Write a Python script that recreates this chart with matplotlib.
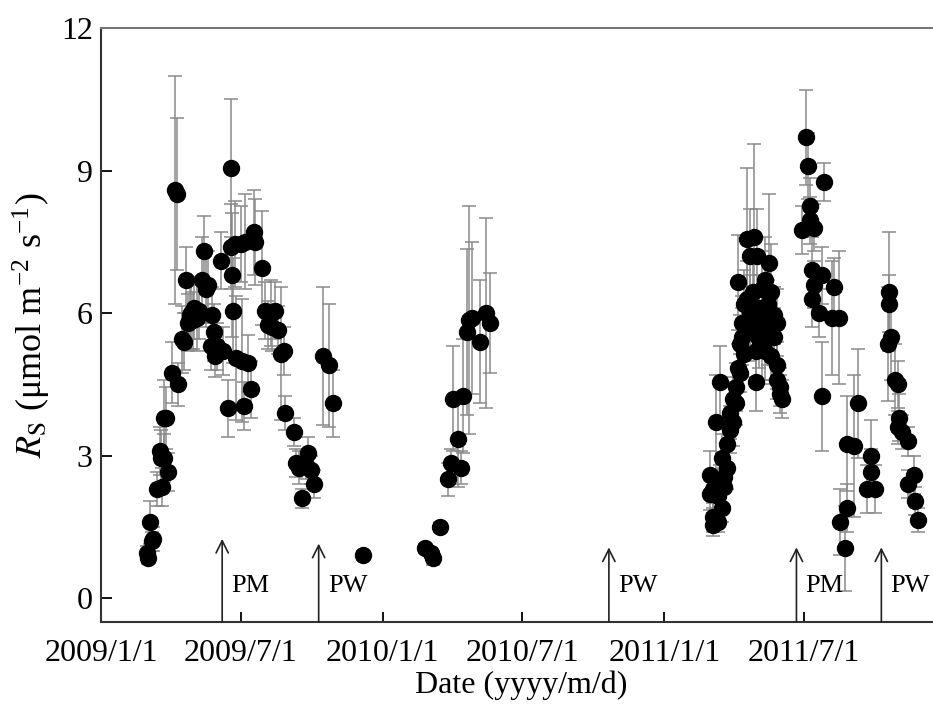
import matplotlib
matplotlib.use("Agg")
import matplotlib.pyplot as plt
import pandas as pd

plt.rcParams['font.family'] = ['Liberation Serif', 'DejaVu Serif']
plt.rcParams['mathtext.fontset'] = 'stix'

# ---- data ----
dates_2009 = ['2009-03-02', '2009-03-03', '2009-03-06', '2009-03-08', '2009-03-10', '2009-03-15',
              '2009-03-19', '2009-03-20', '2009-03-21', '2009-03-23', '2009-03-24', '2009-03-26',
              '2009-03-29', '2009-04-03', '2009-04-07', '2009-04-09', '2009-04-11', '2009-04-16',
              '2009-04-18', '2009-04-21', '2009-04-24', '2009-04-26', '2009-04-28', '2009-04-30',
              '2009-05-02', '2009-05-06', '2009-05-08', '2009-05-12', '2009-05-15', '2009-05-17',
              '2009-05-19', '2009-05-23', '2009-05-25', '2009-05-27', '2009-05-29', '2009-05-31',
              '2009-06-05', '2009-06-08', '2009-06-14', '2009-06-18', '2009-06-19', '2009-06-20',
              '2009-06-21', '2009-06-23', '2009-06-25', '2009-07-01', '2009-07-03', '2009-07-05',
              '2009-07-07', '2009-07-11', '2009-07-14', '2009-07-18', '2009-07-20', '2009-07-29',
              '2009-08-01', '2009-08-05', '2009-08-09', '2009-08-11', '2009-08-14', '2009-08-18',
              '2009-08-22', '2009-08-26', '2009-08-28', '2009-09-08', '2009-09-10', '2009-09-15',
              '2009-09-19', '2009-09-23', '2009-09-26', '2009-09-30', '2009-10-04', '2009-10-16',
              '2009-10-23', '2009-10-29', '2009-12-06']
rs_2009 = [0.95, 0.85, 1.6, 1.2, 1.25, 2.3,
           3.1, 2.95, 2.35, 3.8, 2.95, 3.8,
           2.65, 4.75, 8.6, 8.5, 4.5, 5.45,
           5.4, 6.7, 5.8, 5.95, 6.0, 5.85,
           6.1, 5.9, 6.05, 6.7, 7.3, 6.5,
           6.6, 5.3, 5.95, 5.6, 5.1, 5.3,
           7.1, 5.2, 4.0, 9.05, 7.4, 6.8,
           6.05, 7.45, 5.05, 7.45, 5.0, 4.05,
           7.5, 4.95, 4.4, 7.7, 7.5, 6.95,
           6.05, 5.75, 6.0, 5.7, 6.05, 5.65,
           5.15, 5.2, 3.9, 3.5, 2.85, 2.75,
           2.1, 2.8, 3.05, 2.7, 2.4, 5.1,
           4.9, 4.1, 0.9]
sd_2009 = [0.15, 0.12, 0.45, 0.2, 0.25, 0.35,
           0.5, 0.6, 0.4, 0.8, 0.5, 0.65,
           0.4, 0.65, 2.4, 1.6, 0.45, 0.7,
           0.6, 0.7, 0.6, 0.7, 0.75, 0.6,
           0.65, 0.7, 0.6, 0.9, 0.75, 0.8,
           0.7, 0.5, 0.6, 0.6, 0.45, 0.5,
           0.6, 0.5, 0.6, 1.45, 0.9, 1.3,
           1.1, 0.9, 1.3, 0.8, 1.3, 0.5,
           1.0, 0.6, 0.6, 0.9, 0.9, 1.2,
           0.6, 0.5, 0.7, 0.5, 0.6, 0.5,
           1.4, 0.5, 0.35, 0.3, 0.3, 0.35,
           0.2, 0.3, 0.35, 0.3, 0.3, 1.45,
           1.3, 0.7, 0.1]

dates_2010 = ['2010-02-25', '2010-03-04', '2010-03-07', '2010-03-16', '2010-03-27', '2010-03-31',
              '2010-04-02', '2010-04-08', '2010-04-13', '2010-04-15', '2010-04-20', '2010-04-23',
              '2010-04-27', '2010-05-07', '2010-05-15', '2010-05-20']
rs_2010 = [1.05, 0.95, 0.85, 1.5, 2.5, 2.85,
           4.2, 3.35, 2.75, 4.25, 5.6, 5.85,
           5.9, 5.4, 6.0, 5.8]
sd_2010 = [0.1, 0.1, 0.15, 0.1, 0.35, 0.3,
           1.1, 1.0, 0.35, 1.2, 1.75, 2.4,
           1.6, 1.3, 2.0, 1.05]

dates_2011 = ['2011-03-01', '2011-03-01', '2011-03-05', '2011-03-05', '2011-03-05', '2011-03-09',
              '2011-03-11', '2011-03-11', '2011-03-14', '2011-03-14', '2011-03-16', '2011-03-16',
              '2011-03-19', '2011-03-19', '2011-03-23', '2011-03-23', '2011-03-27', '2011-03-27',
              '2011-03-31', '2011-03-31', '2011-04-04', '2011-04-04', '2011-04-06', '2011-04-06',
              '2011-04-09', '2011-04-09', '2011-04-11', '2011-04-11', '2011-04-14', '2011-04-14',
              '2011-04-18', '2011-04-18', '2011-04-22', '2011-04-22', '2011-04-22', '2011-04-26',
              '2011-04-26', '2011-04-27', '2011-04-30', '2011-04-30', '2011-05-01', '2011-05-03',
              '2011-05-03', '2011-05-03', '2011-05-07', '2011-05-07', '2011-05-07', '2011-05-11',
              '2011-05-11', '2011-05-11', '2011-05-15', '2011-05-15', '2011-05-15', '2011-05-16',
              '2011-05-19', '2011-05-19', '2011-05-19', '2011-05-23', '2011-05-23', '2011-05-27',
              '2011-05-27', '2011-05-27', '2011-05-31', '2011-05-31', '2011-06-02',
              '2011-06-28', '2011-07-04', '2011-07-06', '2011-07-09', '2011-07-09', '2011-07-11',
              '2011-07-11', '2011-07-14', '2011-07-14', '2011-07-20', '2011-07-24', '2011-07-24',
              '2011-07-27', '2011-08-06', '2011-08-09', '2011-08-15', '2011-08-17', '2011-08-23',
              '2011-08-26', '2011-08-26', '2011-09-04', '2011-09-09', '2011-09-21', '2011-09-25',
              '2011-09-25', '2011-10-01', '2011-10-17', '2011-10-19', '2011-10-19', '2011-10-21',
              '2011-10-27', '2011-10-30', '2011-10-30', '2011-11-01', '2011-11-05', '2011-11-12',
              '2011-11-12', '2011-11-20', '2011-11-22', '2011-11-25']
rs_2011 = [2.6, 2.2, 1.7, 1.55, 2.3, 3.7,
           1.6, 2.15, 4.55, 2.45, 2.95, 1.9,
           2.35, 2.55, 3.25, 2.75, 3.9, 3.55,
           3.7, 4.2, 4.1, 4.45, 4.85, 6.65,
           5.35, 4.75, 5.5, 5.8, 6.2, 5.15,
           7.55, 6.3, 7.2, 6.0, 5.6, 6.45,
           5.75, 7.6, 4.55, 5.2, 7.2, 6.1,
           5.45, 5.9, 6.5, 5.3, 5.65, 6.7,
           6.0, 5.2, 5.9, 5.5, 6.2, 7.05,
           5.75, 6.45, 5.1, 5.95, 5.5, 4.9,
           4.6, 5.8, 4.45, 4.3, 4.2,
           7.75, 9.7, 9.1, 8.25, 7.95, 6.9,
           6.3, 7.8, 6.6, 6.0, 6.8, 4.25,
           8.75, 5.9, 6.55, 5.9, 1.6, 1.05,
           3.25, 1.9, 3.2, 4.1, 2.3, 3.0,
           2.65, 2.3, 5.35, 6.45, 6.2, 5.5,
           4.6, 4.5, 3.6, 3.8, 3.5, 3.3,
           2.4, 2.6, 2.05, 1.65]
sd_2011 = [0.5, 0.35, 0.3, 0.25, 0.4, 1.0,
           0.2, 0.3, 0.75, 0.35, 0.5, 0.3,
           0.4, 0.3, 0.5, 0.45, 0.55, 0.5,
           0.5, 0.45, 0.45, 0.5, 0.5, 1.0,
           0.6, 0.4, 0.6, 0.55, 0.7, 0.5,
           1.5, 0.8, 1.0, 0.8, 0.6, 0.9,
           0.7, 1.95, 0.6, 0.6, 1.0, 0.7,
           0.6, 0.7, 0.8, 0.7, 0.6, 0.9,
           0.7, 0.6, 0.8, 0.6, 0.8, 1.45,
           0.6, 1.0, 0.6, 0.6, 0.6, 0.5,
           0.4, 0.7, 0.4, 0.4, 0.4,
           0.5, 1.0, 0.7, 0.6, 0.5, 0.7,
           0.6, 0.5, 0.5, 0.5, 0.6, 1.15,
           0.4, 1.2, 0.6, 1.4, 0.7, 0.9,
           1.0, 0.5, 1.5, 1.15, 0.5, 0.75,
           0.5, 0.5, 1.2, 1.25, 0.6, 0.9,
           0.75, 0.5, 0.35, 0.5, 0.35, 0.3,
           0.3, 0.4, 0.3, 0.25]

event_dates = ['2009-06-07', '2009-10-10', '2010-10-21', '2011-06-21', '2011-10-09']
event_labels = ['PM', 'PW', 'PW', 'PM', 'PW']
event_tops = [1.25, 1.15, 1.07, 1.07, 1.07]

tick_dates = ['2009-01-01', '2009-07-01', '2010-01-01', '2010-07-01', '2011-01-01', '2011-07-01']
tick_labels = ['2009/1/1', '2009/7/1', '2010/1/1', '2010/7/1', '2011/1/1', '2011/7/1']
y_ticks = [0, 3, 6, 9, 12]

# ---- figure ----
fig = plt.figure(figsize=(9.33, 7.05), dpi=100)
ax = fig.add_axes([101 / 933, 1 - 622 / 705, 1 - 101 / 933 + 0.01, (622 - 28) / 705])

for d, v, s in [(dates_2009, rs_2009, sd_2009), (dates_2010, rs_2010, sd_2010),
                (dates_2011, rs_2011, sd_2011)]:
    ax.errorbar(pd.to_datetime(d), v, yerr=s, fmt='o', color='black', markersize=11.5,
                ecolor='#8a8a8a', elinewidth=1.1, capsize=5, capthick=1.1, zorder=3)

for d, lab, top in zip(event_dates, event_labels, event_tops):
    x = pd.Timestamp(d)
    ax.annotate('', xy=(x, top), xytext=(x, -0.5),
                arrowprops=dict(arrowstyle='->', color='#222222', lw=1.2,
                                mutation_scale=22, shrinkA=0, shrinkB=0))
    ax.text(x + pd.Timedelta(days=12), 0.25, lab, fontsize=19, ha='left', va='center')

ax.set_xlim(pd.Timestamp('2009-01-01'), pd.Timestamp('2009-01-01') + pd.Timedelta(days=1090))
ax.set_ylim(-0.5, 12)
ax.set_xticks(pd.to_datetime(tick_dates))
ax.set_xticklabels(tick_labels)
ax.set_yticks(y_ticks)
ax.tick_params(axis='both', direction='in', labelsize=23, width=1.3)
ax.tick_params(axis='y', length=8, pad=6)
ax.tick_params(axis='x', length=7, pad=12)

for side in ['left', 'bottom']:
    ax.spines[side].set_linewidth(1.5)
    ax.spines[side].set_color('#333333')
ax.spines['top'].set_linewidth(1.5)
ax.spines['top'].set_color('#777777')
ax.spines['right'].set_visible(False)

ax.set_xlabel('Date (yyyy/m/d)', fontsize=23, labelpad=2)
ax.set_ylabel(r'$R_{\mathrm{S}}$ ($\mathregular{\mu}$mol m$^{\mathregular{-2}}$ s$^{\mathregular{-1}}$)',
              fontsize=26, labelpad=6)

fig.savefig('out.png', dpi=100)
